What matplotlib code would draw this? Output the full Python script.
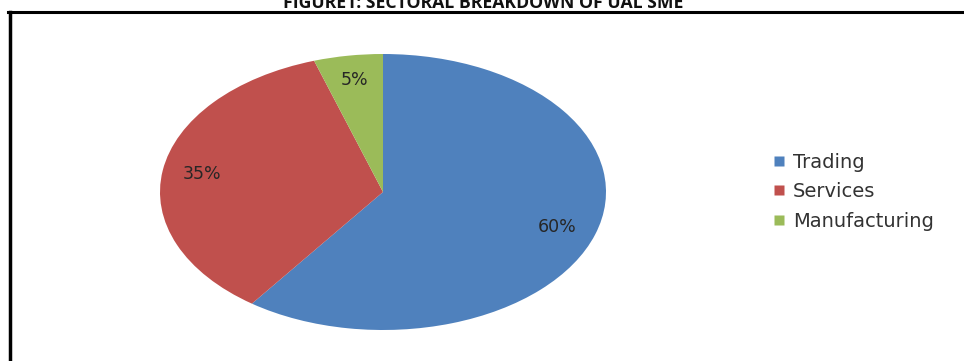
import matplotlib
matplotlib.use("Agg")
import matplotlib.pyplot as plt
from matplotlib.lines import Line2D

# sectoral breakdown of SMEs
sectors = ["Trading", "Services", "Manufacturing"]
shares = [60, 35, 5]
colors = ["#4F81BD", "#C0504D", "#9BBB59"]
title = "FIGURE1: SECTORAL BREAKDOWN OF UAL SME"

W, H = 964, 361
fig = plt.figure(figsize=(W / 100, H / 100), dpi=100)
fig.patch.set_facecolor("white")

# pie stretched into an ellipse, like the spreadsheet chart
ax = fig.add_axes([160 / W, 1 - 330 / H, 446 / W, 276 / H])
wedges, texts, autotexts = ax.pie(
    shares, colors=colors, startangle=90, counterclock=False,
    autopct="%d%%", pctdistance=0.82,
    wedgeprops=dict(linewidth=0),
    textprops=dict(fontsize=12.5, color="#262626", family="DejaVu Sans"),
)
ax.set_aspect("auto")
ax.set_xlim(-1, 1)
ax.set_ylim(-1, 1)

handles = [Line2D([], [], marker="s", linestyle="none", markersize=7,
                  markerfacecolor=c, markeredgecolor="none") for c in colors]
fig.legend(handles, sectors, loc="upper left",
           bbox_to_anchor=(755 / W, 1 - 135 / H), frameon=False,
           prop=dict(family="DejaVu Sans", size=14), handlelength=0.7,
           handletextpad=0.35, labelspacing=0.55, labelcolor="#333333")

# page frame and the cut-off caption above it
fig.add_artist(Line2D([8 / W, 1], [1 - 12 / H, 1 - 12 / H], color="black", lw=2.2))
fig.add_artist(Line2D([10 / W, 10 / W], [0, 1 - 12 / H], color="black", lw=2.5))
fig.text(483 / W, 1 - 8 / H, title, ha="center", va="baseline",
         fontsize=12.7, fontweight="bold", family="Open Sans", color="#111111")

fig.savefig("out.png", dpi=100)
